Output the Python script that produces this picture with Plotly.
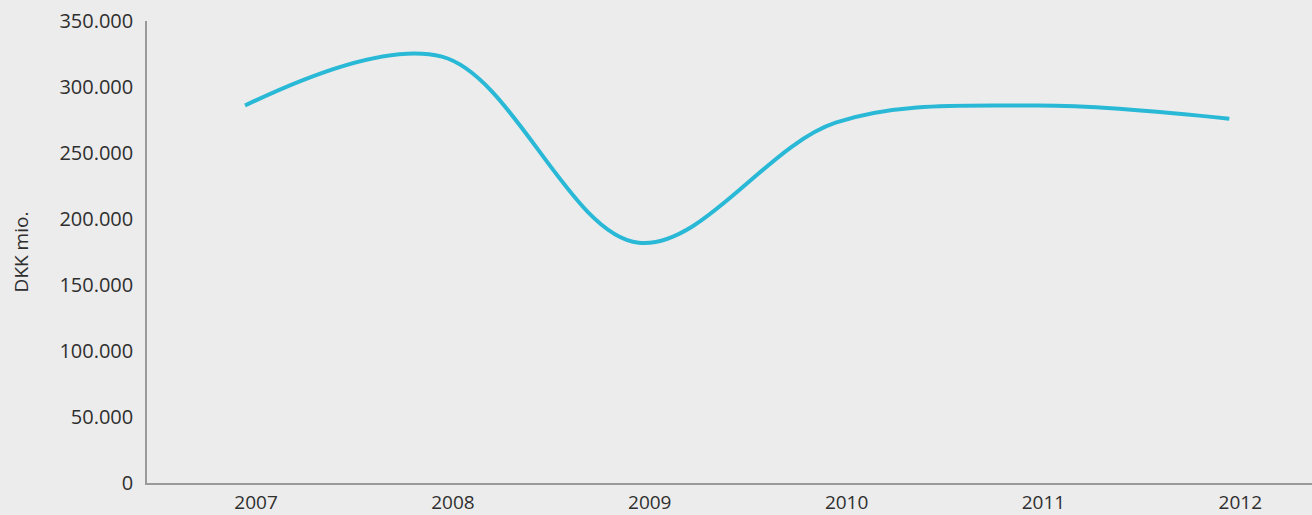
import plotly.graph_objects as go

years = [2007, 2008, 2009, 2010, 2011, 2012]
values = [286000, 323000, 182000, 273000, 286000, 276000]
y_ticks = [0, 50000, 100000, 150000, 200000, 250000, 300000, 350000]
y_tick_labels = ["0", "50.000", "100.000", "150.000", "200.000", "250.000", "300.000", "350.000"]

BG = "#ececec"
LINE = "#29b9d6"
TEXT = "#2f2f2f"
AXIS = "#9a9a9a"
FONT = "Open Sans"

fig = go.Figure(
    go.Scatter(
        x=years,
        y=values,
        mode="lines",
        line=dict(color=LINE, width=4, shape="spline", smoothing=1.0),
        hoverinfo="skip",
    )
)

fig.update_layout(
    width=1312,
    height=515,
    paper_bgcolor=BG,
    plot_bgcolor=BG,
    margin=dict(l=147, r=0, t=21, b=32),
    showlegend=False,
    font=dict(family=FONT, color=TEXT, size=20),
)

fig.update_xaxes(
    range=[2006.502, 2012.42],
    tickmode="array",
    tickvals=years,
    ticktext=[str(y) for y in years],
    showgrid=False,
    zeroline=False,
    showline=True,
    linecolor=AXIS,
    linewidth=1.5,
    ticks="",
    ticklabelshift=11,
    ticklabelstandoff=1,
    automargin=False,
    tickfont=dict(family=FONT, size=19, color=TEXT),
)

fig.update_yaxes(
    range=[0, 350000],
    tickmode="array",
    tickvals=y_ticks,
    ticktext=y_tick_labels,
    showgrid=False,
    zeroline=False,
    showline=True,
    linecolor=AXIS,
    linewidth=1.5,
    ticks="",
    ticklabelstandoff=8,
    automargin=False,
    tickfont=dict(family=FONT, size=20, color=TEXT),
    title=dict(text="DKK mio.", font=dict(family=FONT, size=19, color=TEXT), standoff=26),
)

fig.write_html("out.html")
